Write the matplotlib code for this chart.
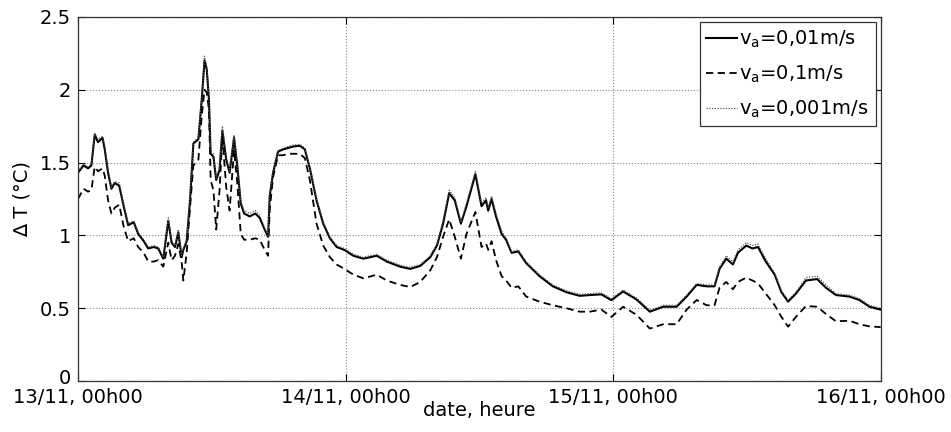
import matplotlib
matplotlib.use('Agg')
import matplotlib.pyplot as plt
import matplotlib.transforms as mtransforms

# hours since 13/11 00h00
hours = [0.0, 0.5, 0.9, 1.2, 1.5, 1.8, 2.2, 2.4, 2.7, 3.0, 3.3, 3.7, 4.1, 4.5, 5.0, 5.4, 5.9, 6.3, 6.8, 7.2,
         7.65, 8.1, 8.4, 8.7, 9.0, 9.3, 9.45, 9.75, 10.05, 10.35, 10.8, 11.1, 11.35, 11.55, 11.75, 11.9, 12.15,
         12.4, 12.7, 12.95, 13.3, 13.6, 14.0, 14.3, 14.6, 14.9, 15.4, 15.9, 16.3, 16.75, 17.05, 17.2, 17.5,
         17.95, 18.4, 18.85, 19.3, 19.9, 20.35, 20.8, 21.4, 22.0, 22.6, 23.2, 23.9, 24.7, 25.6, 26.8, 27.7,
         28.9, 29.8, 30.7, 31.6, 32.2, 32.75, 33.3, 33.8, 34.35, 34.85, 35.65, 36.2, 36.6, 36.8, 37.1, 37.5,
         38.0, 38.4, 38.9, 39.5, 40.2, 41.4, 42.6, 43.8, 45.0, 45.9, 46.95, 47.85, 48.9, 50.1, 51.3, 52.5,
         53.7, 54.6, 55.5, 56.4, 57.1, 57.55, 58.15, 58.75, 59.2, 59.95, 60.5, 61.0, 61.7, 62.5, 63.1, 63.7,
         64.4, 65.3, 66.3, 67.1, 68.0, 69.2, 70.1, 71.0, 72.0]

dt_001 = [1.43, 1.48, 1.46, 1.48, 1.69, 1.64, 1.67, 1.59, 1.43, 1.32, 1.36, 1.34, 1.20, 1.07, 1.09, 1.01, 0.96,
          0.91, 0.92, 0.91, 0.84, 1.10, 0.95, 0.92, 1.02, 0.85, 0.90, 0.96, 1.24, 1.63, 1.66, 1.93, 2.20, 2.14,
          1.93, 1.56, 1.54, 1.38, 1.45, 1.72, 1.52, 1.43, 1.67, 1.47, 1.22, 1.15, 1.13, 1.15, 1.12, 1.04, 0.99,
          1.27, 1.43, 1.575, 1.59, 1.60, 1.61, 1.615, 1.59, 1.46, 1.24, 1.08, 0.98, 0.92, 0.90, 0.86, 0.84, 0.86,
          0.82, 0.785, 0.77, 0.79, 0.85, 0.93, 1.08, 1.29, 1.24, 1.08, 1.20, 1.42, 1.20, 1.24, 1.17, 1.25, 1.13,
          1.01, 0.97, 0.88, 0.89, 0.81, 0.72, 0.65, 0.61, 0.585, 0.59, 0.595, 0.555, 0.615, 0.56, 0.476, 0.51,
          0.51, 0.58, 0.66, 0.65, 0.65, 0.77, 0.84, 0.80, 0.88, 0.93, 0.91, 0.92, 0.82, 0.73, 0.61, 0.545, 0.60,
          0.69, 0.70, 0.64, 0.59, 0.58, 0.556, 0.51, 0.49]

dt_01 = [1.25, 1.32, 1.30, 1.31, 1.47, 1.44, 1.46, 1.41, 1.24, 1.15, 1.19, 1.21, 1.06, 0.96, 0.98, 0.92, 0.88,
         0.82, 0.82, 0.83, 0.785, 0.95, 0.83, 0.86, 0.94, 0.82, 0.69, 0.88, 1.19, 1.48, 1.52, 1.82, 2.00, 1.98,
         1.86, 1.38, 1.31, 1.04, 1.31, 1.68, 1.33, 1.17, 1.59, 1.35, 1.01, 0.97, 0.97, 0.98, 0.97, 0.90, 0.86,
         1.18, 1.40, 1.55, 1.55, 1.56, 1.56, 1.56, 1.53, 1.38, 1.08, 0.93, 0.85, 0.80, 0.77, 0.73, 0.705, 0.73,
         0.69, 0.66, 0.645, 0.68, 0.76, 0.85, 0.99, 1.11, 0.99, 0.84, 1.01, 1.16, 0.92, 0.945, 0.90, 0.96, 0.83,
         0.72, 0.69, 0.64, 0.65, 0.58, 0.545, 0.52, 0.50, 0.476, 0.476, 0.49, 0.44, 0.51, 0.455, 0.36, 0.39,
         0.39, 0.49, 0.556, 0.52, 0.52, 0.64, 0.68, 0.63, 0.68, 0.71, 0.69, 0.67, 0.60, 0.52, 0.44, 0.373, 0.44,
         0.515, 0.51, 0.46, 0.41, 0.414, 0.39, 0.375, 0.37]

dt_0001 = [1.44, 1.49, 1.47, 1.49, 1.70, 1.66, 1.68, 1.61, 1.45, 1.33, 1.37, 1.36, 1.21, 1.08, 1.10, 1.02, 0.97,
           0.92, 0.93, 0.92, 0.85, 1.12, 0.96, 0.93, 1.04, 0.86, 0.91, 0.97, 1.26, 1.64, 1.67, 1.95, 2.23, 2.16,
           1.95, 1.58, 1.56, 1.39, 1.47, 1.75, 1.54, 1.44, 1.69, 1.48, 1.23, 1.17, 1.15, 1.17, 1.14, 1.05, 1.00,
           1.28, 1.44, 1.58, 1.60, 1.61, 1.62, 1.625, 1.60, 1.47, 1.25, 1.09, 0.99, 0.93, 0.91, 0.87, 0.85, 0.87,
           0.83, 0.795, 0.78, 0.80, 0.86, 0.94, 1.10, 1.31, 1.26, 1.09, 1.22, 1.44, 1.22, 1.26, 1.19, 1.27, 1.15,
           1.03, 0.98, 0.89, 0.90, 0.82, 0.73, 0.66, 0.62, 0.595, 0.60, 0.605, 0.565, 0.625, 0.57, 0.486, 0.52,
           0.52, 0.59, 0.67, 0.66, 0.66, 0.78, 0.86, 0.82, 0.90, 0.95, 0.93, 0.94, 0.84, 0.74, 0.62, 0.555, 0.61,
           0.71, 0.72, 0.66, 0.60, 0.59, 0.566, 0.52, 0.50]

xtick_pos = [0, 24, 48, 72]
xtick_labels = ['13/11, 00h00', '14/11, 00h00', '15/11, 00h00', '16/11, 00h00']
ytick_pos = [0, 0.5, 1, 1.5, 2, 2.5]
ytick_labels = ['0', '0.5', '1', '1.5', '2', '2.5']

fig = plt.figure(figsize=(9.51, 4.32), dpi=100)
ax = fig.add_axes([0.082, 0.118, 0.844, 0.843])

ax.plot(hours, dt_001, color='black', lw=1.5, ls='-', label=r'v$_{\mathrm{a}}$=0,01m/s')
ax.plot(hours, dt_01, color='black', lw=1.3, ls=(0, (4, 2.5)), label=r'v$_{\mathrm{a}}$=0,1m/s')
ax.plot(hours, dt_0001, color='#555555', lw=0.9, ls=(0, (1, 1.2)), label=r'v$_{\mathrm{a}}$=0,001m/s')

ax.set_xlim(0, 72)
ax.set_ylim(0, 2.5)
ax.set_xticks(xtick_pos)
ax.set_xticklabels(xtick_labels)
ax.set_yticks(ytick_pos)
ax.set_yticklabels(ytick_labels)
ax.tick_params(direction='in', top=True, right=True, labelsize=14, length=5, width=0.8)
ax.tick_params(axis='x', pad=5)
ax.tick_params(axis='y', pad=5)
ax.grid(True, ls=':', color='#888888', lw=0.8)
for sp in ax.spines.values():
    sp.set_linewidth(0.9)
    sp.set_color('#333333')

# the "0" sits just above the first date label, like in matlab output
zero_lbl = ax.get_yticklabels()[0]
zero_lbl.set_transform(zero_lbl.get_transform() +
                       mtransforms.ScaledTranslation(0, 3 / 72, fig.dpi_scale_trans))

ax.set_xlabel('date, heure', fontsize=14, labelpad=-4)
ax.set_ylabel('\u2206 T (\u00b0C)', fontsize=14, labelpad=6)

leg = ax.legend(loc='upper right', fontsize=14, handlelength=1.6, handletextpad=0.1,
                borderpad=0.35, labelspacing=0.7, borderaxespad=0.25, fancybox=False, framealpha=1)
leg.get_frame().set_edgecolor('#333333')
leg.get_frame().set_linewidth(0.9)

fig.savefig('out.png', dpi=100)
